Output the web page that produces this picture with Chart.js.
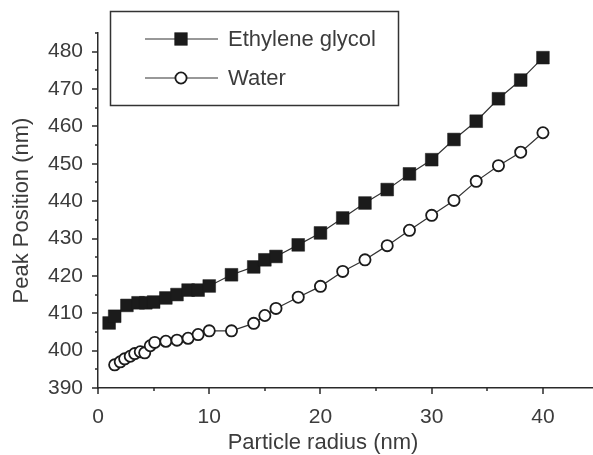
<!DOCTYPE html>
<html><head><meta charset="utf-8">
<script src="https://cdn.jsdelivr.net/npm/chart.js@4/dist/chart.umd.min.js"></script>
<style>html,body{margin:0;padding:0;background:#fff}</style>
</head><body>
<canvas id="c" width="593" height="455"></canvas>
<script>
// ---- data ----
const glycolRadius = [1, 1.5, 2.6, 3.6, 4.3, 5, 6.1, 7.1, 8.1, 9, 10, 12, 14, 15, 16, 18, 20, 22, 24, 26, 28, 30, 32, 34, 36, 38, 40];
const glycolPeak   = [407.4, 409.2, 412.1, 412.8, 412.8, 413.0, 414.1, 415.0, 416.2, 416.2, 417.3, 420.3, 422.4, 424.3, 425.2, 428.3, 431.5, 435.5, 439.5, 443.1, 447.3, 451.1, 456.5, 461.4, 467.4, 472.4, 478.4];
const waterRadius  = [1.5, 2, 2.4, 2.9, 3.3, 3.8, 4.2, 4.7, 5.1, 6.1, 7.1, 8.1, 9, 10, 12, 14, 15, 16, 18, 20, 22, 24, 26, 28, 30, 32, 34, 36, 38, 40];
const waterPeak    = [396.2, 397.0, 397.8, 398.5, 399.2, 399.7, 399.4, 401.3, 402.2, 402.5, 402.8, 403.3, 404.3, 405.3, 405.3, 407.3, 409.4, 411.3, 414.3, 417.2, 421.2, 424.3, 428.1, 432.2, 436.2, 440.2, 445.3, 449.5, 453.1, 458.3];
const seriesNames  = ['Ethylene glycol', 'Water'];
const xTitle = 'Particle radius (nm)';
const yTitle = 'Peak Position (nm)';
const xRange = [0, 44.5];
const yRange = [390, 485];

const FONT = '"Liberation Sans", Arial, sans-serif';
const TEXT = '#3c3c3c';
const AXIS = '#2a2a2a';

const toPts = (xs, ys) => xs.map((x, i) => ({x, y: ys[i]}));

const datasets = [
  { label: seriesNames[0], data: toPts(glycolRadius, glycolPeak),
    borderColor: '#333', borderWidth: 1.2, pointStyle: 'rect', pointRadius: 9,
    pointBackgroundColor: '#1b1b1b', pointBorderColor: '#1b1b1b', pointBorderWidth: 0.5 },
  { label: seriesNames[1], data: toPts(waterRadius, waterPeak),
    borderColor: '#333', borderWidth: 1.2, pointStyle: 'circle', pointRadius: 5.6,
    pointBackgroundColor: '#ffffff', pointBorderColor: '#1b1b1b', pointBorderWidth: 1.8 }
];

const tickPlugin = {
  id: 'ticksAndLegend',
  afterDraw(chart) {
    const ctx = chart.ctx;
    const xs = chart.scales.x, ys = chart.scales.y;
    const ca = chart.chartArea;
    ctx.save();
    ctx.strokeStyle = AXIS;
    ctx.lineWidth = 1.5;
    xs.ticks.forEach(t => {
      const px = Math.round(xs.getPixelForValue(t.value));
      const len = (t.value % 10 === 0) ? 6 : 3;
      ctx.beginPath(); ctx.moveTo(px, ca.bottom); ctx.lineTo(px, ca.bottom + len); ctx.stroke();
    });
    ys.ticks.forEach(t => {
      const py = Math.round(ys.getPixelForValue(t.value));
      const len = (t.value % 10 === 0) ? 6 : 3;
      ctx.beginPath(); ctx.moveTo(ca.left, py); ctx.lineTo(ca.left - len, py); ctx.stroke();
    });
    // x axis title
    ctx.fillStyle = TEXT;
    ctx.font = '22px ' + FONT;
    ctx.textAlign = 'center';
    ctx.textBaseline = 'middle';
    ctx.fillText(xTitle, 323, 443);
    // legend box
    ctx.lineWidth = 1.5;
    ctx.strokeStyle = '#333';
    ctx.strokeRect(110.5, 11.5, 288, 94);
    const rows = [39, 78];
    chart.data.datasets.forEach((ds, i) => {
      const y = rows[i];
      ctx.strokeStyle = ds.borderColor; ctx.lineWidth = ds.borderWidth;
      ctx.beginPath(); ctx.moveTo(145, y); ctx.lineTo(218, y); ctx.stroke();
      ctx.fillStyle = ds.pointBackgroundColor; ctx.strokeStyle = ds.pointBorderColor;
      ctx.lineWidth = ds.pointBorderWidth;
      Chart.helpers.drawPoint(ctx, {pointStyle: ds.pointStyle, rotation: 0,
        radius: ds.pointRadius, borderWidth: ds.pointBorderWidth}, 181, y);
      ctx.fillStyle = TEXT;
      ctx.font = '22px ' + FONT;
      ctx.textAlign = 'left'; ctx.textBaseline = 'middle';
      ctx.fillText(ds.label, 228, y + 1);
    });
    ctx.restore();
  }
};

new Chart(document.getElementById('c'), {
  type: 'line',
  data: { datasets },
  options: {
    responsive: false,
    animation: false,
    layout: { autoPadding: false, padding: { top: 33, left: 0, right: 0, bottom: 0 } },
    plugins: { legend: { display: false }, tooltip: { enabled: false } },
    elements: { line: { tension: 0 } },
    scales: {
      x: {
        type: 'linear', min: xRange[0], max: xRange[1],
        afterFit: s => { s.height = 67; s.paddingLeft = 0; s.paddingRight = 0; },
        grid: { display: false, drawTicks: false },
        border: { display: true, color: AXIS, width: 1.5 },
        ticks: { stepSize: 5, includeBounds: false, autoSkip: false, maxRotation: 0,
          padding: 17, color: TEXT, font: { family: FONT, size: 21 },
          callback: v => (v % 10 === 0 ? String(v) : '') }
      },
      y: {
        type: 'linear', min: yRange[0], max: yRange[1],
        afterFit: s => { s.width = 98; s.paddingTop = 0; s.paddingBottom = 0; },
        grid: { display: false, drawTicks: false },
        border: { display: true, color: AXIS, width: 1.5 },
        ticks: { stepSize: 5, includeBounds: false, autoSkip: false,
          padding: 15, color: TEXT, font: { family: FONT, size: 21 },
          callback: v => (v % 10 === 0 ? String(v) : '') },
        title: { display: true, text: yTitle, color: TEXT,
          font: { family: FONT, size: 22 }, padding: { top: 9, bottom: 0 } }
      }
    }
  },
  plugins: [tickPlugin]
});
</script>
</body></html>
